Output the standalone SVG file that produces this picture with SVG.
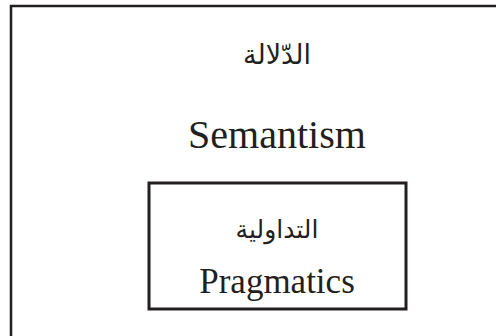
<svg xmlns="http://www.w3.org/2000/svg" width="496" height="336" viewBox="0 0 496 336">
<style>
.box{fill:none;stroke:#231f20}
.en{font-family:"Liberation Serif","Times New Roman",serif;fill:#231f20;text-anchor:middle}
.ar{font-family:"DejaVu Sans","Noto Sans",sans-serif;fill:#231f20;text-anchor:middle}
</style>
<rect width="496" height="336" fill="#fff"/>
<g id="semantism">
<rect class="box" x="11" y="6" width="500" height="345" stroke-width="2.5"/>
<text class="ar" x="277" y="64" font-size="27" direction="rtl">الدّلالة</text>
<text class="en" x="277" y="148" font-size="40">Semantism</text>
</g>
<g id="pragmatics">
<rect class="box" x="149" y="183" width="257" height="126" stroke-width="3"/>
<text class="ar" x="277" y="238" font-size="25" direction="rtl">التداولية</text>
<text class="en" x="277" y="293" font-size="35">Pragmatics</text>
</g>
<g id="connectors"/>
</svg>
